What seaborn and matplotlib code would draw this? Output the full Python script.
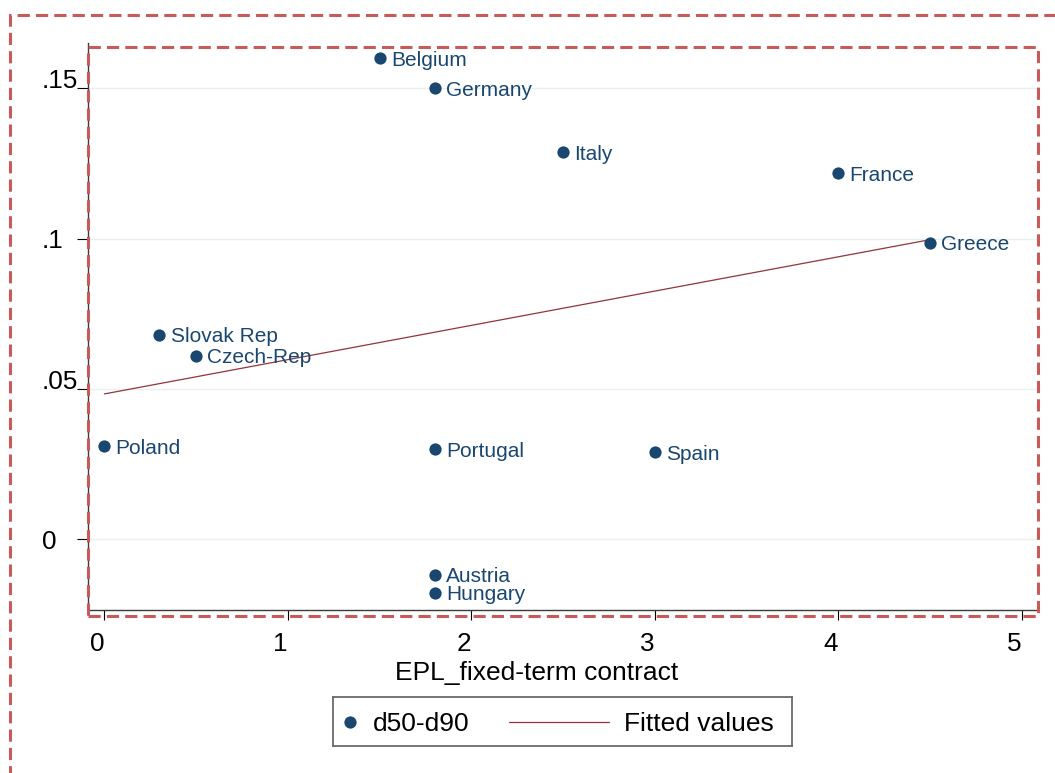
import numpy as np
import pandas as pd
import matplotlib
matplotlib.use("Agg")
import matplotlib.pyplot as plt
from matplotlib.patches import Rectangle
import seaborn as sns

# Data: wage gap (d50-d90) against EPL for fixed-term contracts
countries = ["Belgium", "Germany", "Italy", "France", "Greece", "Slovak Rep",
             "Czech-Rep", "Poland", "Portugal", "Spain", "Austria", "Hungary"]
epl_fixed_term = [1.5, 1.8, 2.5, 4.0, 4.5, 0.3, 0.5, 0.0, 1.8, 3.0, 1.8, 1.8]
d50_d90 = [0.160, 0.150, 0.1287, 0.1218, 0.0987, 0.068, 0.061, 0.031,
           0.0299, 0.0289, -0.0118, -0.0178]

x_ticks = [0, 1, 2, 3, 4, 5]
y_ticks = [0, 0.05, 0.10, 0.15]
y_tick_labels = ["0", ".05", ".1", ".15"]
x_label = "EPL_fixed-term contract"
legend_labels = ["d50-d90", "Fitted values"]

df = pd.DataFrame({"country": countries, "epl": epl_fixed_term, "gap": d50_d90})

sns.set_style("white")
plt.rcParams["font.family"] = ["Liberation Sans", "DejaVu Sans"]
plt.rcParams["text.color"] = "black"
plt.rcParams["axes.labelcolor"] = "black"
plt.rcParams["xtick.color"] = "black"
plt.rcParams["ytick.color"] = "black"

NAVY = "#1a476f"
MAROON = "#90353b"
GRID = "#e9f0f2"
DASH_RED = "#c95a5a"

W, H = 1055, 773
fig = plt.figure(figsize=(W / 100, H / 100), dpi=100)
fig.patch.set_facecolor("white")


def fx(px):
    return px / W


def fy(py):
    return 1 - py / H


# plot region in pixel terms: x 88..1038, y 43..610
ax = fig.add_axes([fx(88), fy(610), fx(1038 - 88), (610 - 43) / H])
ax.set_facecolor("white")

sns.regplot(data=df, x="epl", y="gap", scatter=False, ci=None, truncate=True,
            line_kws=dict(color=MAROON, lw=0.9), ax=ax)
sns.scatterplot(data=df, x="epl", y="gap", color=NAVY, s=78, linewidth=0,
                ax=ax, zorder=3)

for name, xv, yv in zip(countries, epl_fixed_term, d50_d90):
    ax.annotate(name, (xv, yv), xytext=(8.2, 0), textcoords="offset points",
                ha="left", va="center_baseline", fontsize=15, color=NAVY,
                zorder=4)

ax.set_xlim(-0.089, 5.088)
ax.set_ylim(-0.0235, 0.1651)

ax.set_xticks(x_ticks)
ax.set_xticklabels([str(t) for t in x_ticks], fontsize=18.8, color="black")
ax.set_yticks(y_ticks)
ax.set_yticklabels(y_tick_labels, fontsize=18.8, color="black")

ax.tick_params(axis="x", direction="out", length=7.3, width=0.8, color="black",
               pad=8.3, bottom=True)
ax.tick_params(axis="y", direction="out", length=7.6, width=0.8, color="black",
               pad=25.6, left=True)
for lab in ax.get_xticklabels():
    lab.set_horizontalalignment("right")
for lab, txt in zip(ax.get_yticklabels(), y_tick_labels):
    lab.set_horizontalalignment("left")
    lab.set_verticalalignment("baseline" if len(txt) == 3 else "center_baseline")

ax.yaxis.grid(True, color=GRID, lw=1.0)
ax.xaxis.grid(False)
ax.set_axisbelow(True)

for side in ["top", "right"]:
    ax.spines[side].set_visible(False)
for side in ["left", "bottom"]:
    ax.spines[side].set_visible(True)
    ax.spines[side].set_color("#3c3c3c")
    ax.spines[side].set_linewidth(1.0)

ax.set_xlabel(x_label, fontsize=19, va="baseline", color="black")
ax.xaxis.set_label_coords((537 - 88) / 950, -(680 - 610) / 567)
ax.set_ylabel("")

# dashed frames around the plot region and the whole graph
dash = (0, (12 / 3, 6 / 3))
fig.add_artist(Rectangle((fx(88), fy(616)), fx(1038 - 88), (616 - 47) / H,
                         transform=fig.transFigure, fill=False,
                         edgecolor=DASH_RED, lw=2.2, linestyle=dash, zorder=10))
fig.add_artist(Rectangle((fx(10), fy(800)), fx(1060), (800 - 15) / H,
                         transform=fig.transFigure, fill=False,
                         edgecolor=DASH_RED, lw=2.2, linestyle=dash, zorder=10))

# legend box below the plot, laid out in its own pixel coordinates
lx0, lx1, ly0, ly1 = 333, 792, 697, 746
lax = fig.add_axes([fx(lx0), fy(ly1), fx(lx1 - lx0), (ly1 - ly0) / H])
lax.set_xlim(0, lx1 - lx0)
lax.set_ylim(0, ly1 - ly0)
lax.set_xticks([])
lax.set_yticks([])
lax.set_facecolor("white")
for sp in lax.spines.values():
    sp.set_visible(True)
    sp.set_color("#6a6a6a")
    sp.set_linewidth(1.3)
mid = (ly1 - ly0) / 2
lax.scatter([17], [mid], s=78, color=NAVY, linewidth=0)
lax.text(40, mid, legend_labels[0], fontsize=19, va="center_baseline", ha="left",
         color="black")
lax.plot([176, 276], [mid, mid], color=MAROON, lw=0.9)
lax.text(291, mid, legend_labels[1], fontsize=19, va="center_baseline", ha="left",
         color="black")

fig.savefig("out.png", dpi=100, facecolor="white")
